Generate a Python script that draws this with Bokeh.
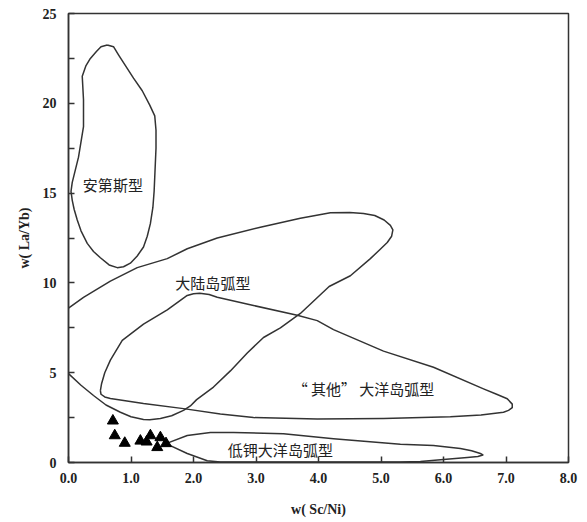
from bokeh.plotting import figure
from bokeh.models import FixedTicker, NumeralTickFormatter, ColumnDataSource
from bokeh.core.properties import value
from bokeh.embed import file_html
from bokeh.resources import INLINE

# Discrimination fields, w(Sc/Ni) vs w(La/Yb)
andean_x = [0.62, 0.72, 0.80, 1.04, 1.18, 1.30, 1.38, 1.40, 1.40, 1.37, 1.35, 1.31, 1.26, 1.20,
            1.10, 0.99, 0.88, 0.78, 0.65, 0.51, 0.40, 0.30, 0.20, 0.14, 0.09, 0.06, 0.04, 0.06,
            0.16, 0.24, 0.24, 0.22, 0.28, 0.35, 0.45, 0.52, 0.62]
andean_y = [23.25, 23.15, 22.7, 21.4, 20.7, 19.9, 19.3, 18.5, 17.5, 15.1, 14.2, 13.3, 12.6, 12.0,
            11.5, 11.1, 10.9, 10.85, 11.0, 11.4, 11.75, 12.2, 12.9, 13.5, 14.1, 14.6, 15.1, 15.6,
            17.0, 18.7, 20.2, 21.5, 22.1, 22.5, 22.9, 23.15, 23.25]

continental_x = [0.0, 0.24, 0.67, 1.10, 1.58, 1.90, 2.38, 3.07, 3.71, 4.19, 4.50, 4.72, 4.90, 5.05,
                 5.15, 5.19, 5.17, 5.10, 4.98, 4.83, 4.51, 4.17, 3.71, 3.39, 3.12, 2.86, 2.59,
                 2.32, 2.05, 1.95, 1.84, 1.65, 1.47, 1.30, 1.20, 1.00, 0.83, 0.60, 0.40, 0.20, 0.0]
continental_y = [8.6, 9.2, 10.1, 10.85, 11.35, 11.9, 12.5, 13.1, 13.6, 13.9, 13.92, 13.87, 13.75, 13.5,
                 13.2, 12.95, 12.6, 12.25, 11.85, 11.35, 10.4, 9.8, 8.3, 7.5, 6.96, 6.1, 5.1,
                 4.2, 3.5, 3.15, 2.9, 2.6, 2.45, 2.38, 2.4, 2.55, 2.8, 3.2, 3.73, 4.3, 4.95]

other_x = [0.51, 0.53, 0.58, 0.67, 0.86, 1.20, 1.58, 1.90, 2.00, 2.10, 2.25, 2.38, 2.96, 3.66,
           3.98, 4.24, 5.04, 5.84, 6.64, 6.85, 7.02, 7.10, 7.10, 7.04, 6.96, 6.60, 6.11, 5.04,
           3.98, 2.96, 2.43, 1.84, 1.20, 0.67, 0.58, 0.52, 0.51]
other_y = [4.0, 4.4, 5.0, 5.7, 6.8, 7.7, 8.5, 9.3, 9.4, 9.42, 9.35, 9.2, 8.74, 8.2,
           7.9, 7.4, 6.2, 5.3, 4.1, 3.8, 3.55, 3.25, 3.05, 2.9, 2.8, 2.65, 2.55, 2.45,
           2.42, 2.5, 2.7, 3.0, 3.28, 3.56, 3.65, 3.8, 4.0]

lowk_x = [1.56, 1.90, 2.27, 2.64, 3.44, 4.24, 5.31, 5.84, 6.27, 6.45, 6.59, 6.63, 6.55, 6.38,
          6.00, 5.63, 5.30, 2.43, 2.22, 1.90, 1.56]
lowk_y = [1.05, 1.50, 1.67, 1.67, 1.60, 1.32, 1.02, 0.95, 0.78, 0.65, 0.50, 0.42, 0.33, 0.28,
          0.17, 0.06, 0.03, 0.03, 0.10, 0.50, 1.05]

# Samples
sample_x = [0.71, 0.74, 0.90, 1.15, 1.25, 1.31, 1.47, 1.42, 1.56]
sample_y = [2.32, 1.50, 1.08, 1.20, 1.15, 1.50, 1.39, 0.84, 1.06]

# Field names
field_names = ["安第斯型", "大陆岛弧型", "“ 其他” 大洋岛弧型", "低钾大洋岛弧型"]
field_label_x = [0.71, 2.31, 4.72, 3.39]
field_label_y = [15.5, 10.0, 4.1, 0.72]

x_ticks = [0, 1, 2, 3, 4, 5, 6, 7, 8]
y_ticks = [0, 5, 10, 15, 20, 25]
y_minor = [2.5, 7.5, 12.5, 17.5, 22.5]

p = figure(width=587, height=522, x_range=(0, 8), y_range=(0, 25),
           output_backend="svg", toolbar_location=None,
           min_border_left=68, min_border_right=19, min_border_top=13, min_border_bottom=60)

p.background_fill_color = "white"
p.border_fill_color = "white"
p.xgrid.visible = False
p.ygrid.visible = False
p.outline_line_color = "#333333"
p.outline_line_width = 1.5

line_style = dict(line_color="#333333", line_width=1.5, line_join="round")
for xs, ys in [(andean_x, andean_y), (continental_x, continental_y),
               (other_x, other_y), (lowk_x, lowk_y)]:
    p.line(xs, ys, **line_style)

p.scatter(sample_x, sample_y, marker="triangle", size=11, color="black")

src = ColumnDataSource(dict(x=field_label_x, y=field_label_y, t=field_names))
p.text("x", "y", text="t", source=src, text_align="center", text_baseline="middle",
       text_font=value("Noto Sans CJK SC"), text_font_size="15px", text_color="#222222")

serif = "Liberation Serif"
p.xaxis.ticker = FixedTicker(ticks=x_ticks)
p.xaxis.formatter = NumeralTickFormatter(format="0.0")
p.yaxis.ticker = FixedTicker(ticks=y_ticks, minor_ticks=y_minor)

for ax in (p.xaxis[0], p.yaxis[0]):
    ax.axis_line_color = "#333333"
    ax.axis_line_width = 1.5
    ax.major_tick_in = 6
    ax.major_tick_out = 0
    ax.major_tick_line_color = "#333333"
    ax.major_tick_line_width = 1.5
    ax.major_label_text_font = serif
    ax.major_label_text_font_size = "14px"
    ax.major_label_text_font_style = "bold"
    ax.major_label_text_color = "#222222"
    ax.axis_label_text_font = serif
    ax.axis_label_text_font_size = "14px"
    ax.axis_label_text_font_style = "bold"
    ax.axis_label_text_color = "#222222"

p.xaxis.minor_tick_line_color = None
p.yaxis.minor_tick_in = 6
p.yaxis.minor_tick_out = 0
p.yaxis.minor_tick_line_color = "#333333"
p.yaxis.minor_tick_line_width = 1.5

p.xaxis.axis_label = "w( Sc/Ni)"
p.yaxis.axis_label = "w( La/Yb)"
p.xaxis.major_label_standoff = 10
p.yaxis.major_label_standoff = 12
p.xaxis.axis_label_standoff = 16
p.yaxis.axis_label_standoff = 8

open("out.html", "w").write(file_html(p, INLINE))
